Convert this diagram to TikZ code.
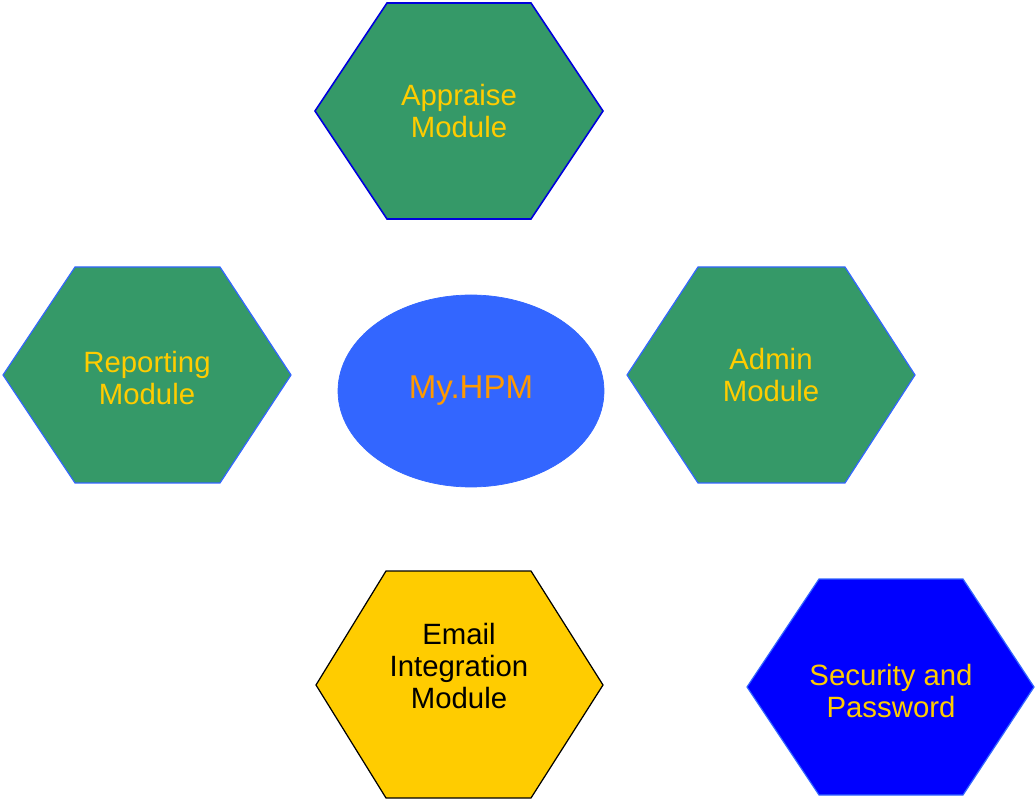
\documentclass[tikz,border=0pt]{standalone}
\usepackage{fontspec}
\setmainfont{Liberation Sans}

\definecolor{modgreen}{RGB}{53,153,104}
\definecolor{modblue}{RGB}{51,102,255}
\definecolor{modedge}{RGB}{0,0,220}
\definecolor{modyellow}{RGB}{255,204,0}
\definecolor{hpmorange}{RGB}{255,153,0}
\definecolor{secblue}{RGB}{0,0,255}

\tikzset{
  greenhex/.style={fill=modgreen, draw=modblue, line width=0.7pt, line join=miter},
  modtext/.style={align=center, text=modyellow, font=\fontsize{16.7}{18.4}\selectfont},
}

\begin{document}
\begin{tikzpicture}[x=0.02cm, y=-0.02cm]
    \useasboundingbox (0,0) rectangle (1035,800);

    \coordinate (appraise) at (459,111);
    \coordinate (reporting) at (147,375);
    \coordinate (admin) at (771,375);
    \coordinate (email) at (459,685);
    \coordinate (security) at (891,687);
    \coordinate (hpm) at (471,391);

    % modules
    \draw[greenhex, draw=modedge, line width=0.9pt, shift={(appraise)}]
        (-144,0) -- (-72,-108) -- (72,-108) -- (144,0) -- (72,108) -- (-72,108) -- cycle;
    \draw[greenhex, shift={(reporting)}]
        (-144,0) -- (-72,-108) -- (73,-108) -- (144,0) -- (73,108) -- (-72,108) -- cycle;
    \draw[greenhex, shift={(admin)}]
        (-144,0) -- (-73,-108) -- (74,-108) -- (144,0) -- (74,108) -- (-73,108) -- cycle;
    \draw[fill=modyellow, draw=black, line width=0.7pt, shift={(email)}]
        (-143,0) -- (-73,-114) -- (72,-114) -- (144,0) -- (72,113) -- (-73,113) -- cycle;
    \draw[fill=secblue, draw=modblue, line width=0.7pt, shift={(security)}]
        (-144,0) -- (-72,-108) -- (72,-108) -- (143,0) -- (72,108) -- (-72,108) -- cycle;

    \draw[fill=modblue, draw=modblue] (hpm) ellipse (133 and 96);

    \node[modtext] (appraisetxt) at (459,111) {Appraise\\Module};
    \node[modtext] (reportingtxt) at (147,378) {Reporting\\Module};
    \node[modtext] (admintxt) at (771,375) {Admin\\Module};
    \node[modtext, text=black] (emailtxt) at (459,666) {Email\\Integration\\Module};
    \node[modtext] (securitytxt) at (891,691) {Security and\\Password};
    \node[text=hpmorange, font=\fontsize{18.8}{22}\selectfont] (hpmtxt) at (hpm) {My.HPM};

\end{tikzpicture}
\end{document}
